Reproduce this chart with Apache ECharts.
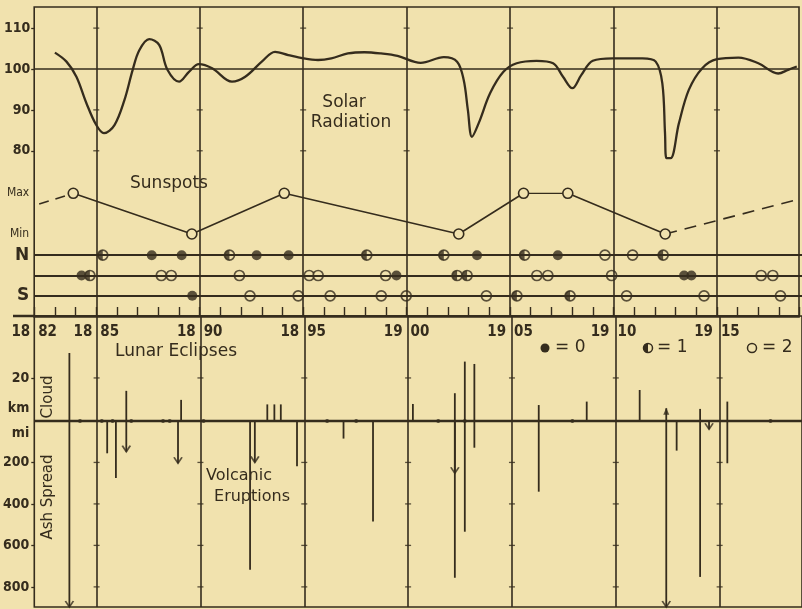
<!DOCTYPE html>
<html><head><meta charset="utf-8">
<script src="https://cdn.jsdelivr.net/npm/echarts@6/dist/echarts.min.js"></script>
<style>html,body{margin:0;padding:0;background:#f1e2ae;}#c{width:802px;height:609px;}</style>
</head><body><div id="c"></div>
<script>
// ---------- data ----------
const yearLabels = [1882, 1885, 1890, 1895, 1900, 1905, 1910, 1915];
const gridYears = [1885, 1890, 1895, 1900, 1905, 1910, 1915];

const solarYears = [1883.00,1883.56,1884.04,1884.52,1885.00,1885.37,1885.88,1886.36,1886.76,1887.08,1887.56,1888.04,1888.44,1889.00,1889.48,1889.96,1890.60,1891.56,1892.20,1893.00,1893.64,1894.28,1895.00,1895.72,1896.36,1897.16,1897.96,1898.76,1899.56,1900.68,1901.80,1902.44,1902.76,1902.96,1903.16,1903.48,1904.04,1904.68,1905.32,1906.28,1907.08,1907.56,1908.01,1908.44,1909.00,1909.96,1911.40,1912.04,1912.36,1912.49,1912.56,1912.76,1913.16,1913.64,1914.29,1915.00,1916.04,1917.00,1917.96,1918.44,1918.86];
const solarValues = [104.0,101.8,98.1,91.7,86.3,84.3,86.3,92.4,99.8,104.6,107.3,105.9,99.8,96.9,99.3,101.2,100.2,96.9,98.1,101.8,104.2,103.4,102.6,102.2,102.6,103.8,104.1,103.8,103.2,101.5,102.9,101.8,97.3,90.0,83.4,86.7,94.1,99.3,101.4,102.0,101.4,98.1,95.3,98.5,102.0,102.6,102.6,101.8,96.5,84.3,78.2,78.2,86.7,94.9,100.2,102.4,102.8,101.4,98.9,99.8,100.6];
const solarTicks = [80, 90, 100, 110];

const sunYears = [1883.88, 1889.59, 1894.04, 1902.44, 1905.56, 1907.69, 1912.38];
const sunLevels = [1, 0, 1, 0, 1, 1, 0];
const sunLeftYears = [1881.46, 1883.88];
const sunLeftLevels = [0.61, 1];
const sunRightYears = [1912.38, 1918.86];
const sunRightLevels = [0, 0.86];

const eclipseRows = ['S', 'C', 'N'];
const eclipseNYears = [1885.30,1887.66,1889.10,1891.40,1892.71,1894.25,1898.01,1901.72,1903.32,1905.61,1907.21,1909.48,1910.81,1912.28];
const eclipseNKinds = [1,0,0,1,0,0,1,1,0,1,0,2,2,1];
const eclipseCYears = [1884.28,1884.68,1888.12,1888.60,1891.88,1895.24,1895.67,1898.92,1899.44,1902.36,1902.84,1906.20,1906.73,1909.80,1913.29,1913.64,1917.00,1917.56];
const eclipseCKinds = [0,1,2,2,2,2,2,2,0,1,1,2,2,2,0,0,2,2];
const eclipseSYears = [1889.61,1892.39,1894.71,1896.25,1898.71,1899.91,1903.77,1905.24,1907.80,1910.52,1914.25,1917.93];
const eclipseSKinds = [0,2,2,2,2,2,2,1,1,2,2,2];

const eruptYears = [1883.69,1885.51,1885.93,1886.43,1888.92,1889.07,1892.39,1892.62,1893.22,1893.56,1893.87,1894.65,1896.89,1898.31,1900.23,1902.25,1902.25,1902.73,1903.19,1906.29,1908.60,1911.15,1912.43,1912.93,1914.06,1914.49,1915.37];
const cloudKm = [31.6,null,null,14.0,null,9.8,null,null,7.7,7.7,7.7,null,null,null,7.9,12.9,null,27.6,26.5,7.4,9.0,14.4,5.9,null,5.6,null,9.0];
const ashMi = [897,156,275,148,204,null,718,200,null,null,null,219,85,485,null,252,756,534,129,341,null,null,897,143,752,40,204];
const ashArrow = [1,0,0,1,1,0,0,1,0,0,0,0,0,0,0,1,0,0,0,0,0,0,1,0,0,1,0];
const cloudArrow = [0,0,0,0,0,0,0,0,0,0,0,0,0,0,0,0,0,0,0,0,0,0,1,0,0,0,0];
const minorEruptYears = [1884.20,1885.25,1885.77,1886.67,1888.20,1888.52,1890.15,1896.10,1897.50,1901.45,1902.73,1907.91,1917.45];
const cloudTicks = [20];
const ashTicks = [200, 400, 600, 800];

// ---------- style ----------
const ink = '#352c1d', bg = '#f1e2ae';
const FONT = "'DejaVu Sans', sans-serif";
const NARROW = "'Liberation Sans Narrow','DejaVu Sans Condensed','DejaVu Sans',sans-serif";
const L = 34.2, W = 770;
const X_MIN = 1882, X_MAX = 1882 + W / 20.83;

function xa(gi, extra) {
  return Object.assign({type: 'value', gridIndex: gi, min: X_MIN, max: X_MAX,
    axisLine: {show: false}, axisTick: {show: false}, axisLabel: {show: false}, splitLine: {show: false}}, extra || {});
}
const lineMark = (data, w) => ({silent: true, symbol: 'none', label: {show: false}, animation: false,
  lineStyle: {color: ink, width: w, type: 'solid'}, emphasis: {disabled: true}, data: data});

function eclipseData(years, kinds, row, keep) {
  const out = [];
  years.forEach((y, i) => { if (keep.includes(kinds[i])) out.push([y, row]); });
  return out;
}
const allRows = [['N', eclipseNYears, eclipseNKinds], ['C', eclipseCYears, eclipseCKinds], ['S', eclipseSYears, eclipseSKinds]];
const openData = allRows.flatMap(r => eclipseData(r[1], r[2], r[0], [1, 2]));
const filledData = allRows.flatMap(r => eclipseData(r[1], r[2], r[0], [0]));
const halfData = allRows.flatMap(r => eclipseData(r[1], r[2], r[0], [1]));

const cloudData = [], ashData = [], ashArrowData = [], cloudArrowData = [];
eruptYears.forEach((y, i) => {
  if (cloudKm[i] != null) cloudData.push([y, cloudKm[i]]);
  if (ashMi[i] != null) ashData.push([y, -ashMi[i]]);
  if (ashArrow[i]) ashArrowData.push([y, -ashMi[i]]);
  if (cloudArrow[i]) cloudArrowData.push([y, cloudKm[i]]);
});

const lbl = {fontSize: 14, fontFamily: NARROW, color: ink, fontWeight: 'bold'};

const chart = echarts.init(document.getElementById('c'), null, {renderer: 'canvas'});
const option = {
  backgroundColor: bg,
  animation: false,
  textStyle: {fontFamily: FONT, color: ink},
  grid: [
    {left: L, top: 7, width: W, height: 309, show: true, borderColor: ink, borderWidth: 1.6, backgroundColor: 'transparent'},
    {left: L, top: 193.3, width: W, height: 40.7},
    {left: L, top: 245, width: W, height: 61},
    {left: L, top: 316, width: W, height: 291, show: true, borderColor: ink, borderWidth: 1.6, backgroundColor: 'transparent'}
  ],
  xAxis: [
    xa(0, {interval: 1,
      axisLine: {show: true, lineStyle: {color: ink, width: 2.5}},
      axisTick: {show: true, inside: true, length: 9, lineStyle: {color: ink, width: 1.4}},
      axisLabel: {show: true, margin: 9, color: ink,
        formatter: v => {
          const r = Math.round(v);
          if (Math.abs(v - r) > 1e-6 || !yearLabels.includes(r)) return '';
          const s = String(r);
          return '{a|' + s.slice(0, 2) + '}{g|}{b|' + s.slice(2) + '}';
        },
        rich: {a: Object.assign({}, lbl, {fontSize: 15}), g: {width: 8}, b: Object.assign({}, lbl, {fontSize: 15})}
      }}),
    xa(1), xa(2), xa(3)
  ],
  yAxis: [
    {type: 'value', gridIndex: 0, min: 39.6, max: 115.16, splitLine: {show: false}, axisLine: {show: false},
      axisTick: {show: true, length: 3, customValues: solarTicks, lineStyle: {color: ink, width: 1.3}},
      axisLabel: Object.assign({customValues: solarTicks, margin: 4}, lbl)},
    {type: 'value', gridIndex: 1, min: 0, max: 1, splitLine: {show: false}, axisLine: {show: false}, axisTick: {show: false},
      axisLabel: Object.assign({customValues: [0, 1], margin: 5}, lbl, {fontSize: 12, fontWeight: 'normal'}, {formatter: v => v === 1 ? 'Max' : 'Min'})},
    {type: 'category', gridIndex: 2, data: eclipseRows, axisLine: {show: false}, axisTick: {show: false}, splitLine: {show: false},
      axisLabel: {margin: 5, fontSize: 17, fontWeight: 'bold', fontFamily: FONT, color: ink}},
    {type: 'value', gridIndex: 3, min: -897, max: 506, position: 'left', offset: 0, splitLine: {show: false}, axisLine: {show: false},
      axisTick: {show: true, length: 3, customValues: ashTicks.map(v => -v), lineStyle: {color: ink, width: 1.3}},
      axisLabel: Object.assign({customValues: ashTicks.map(v => -v).concat([-60]), margin: 5}, lbl,
        {formatter: v => v === -60 ? 'mi' : String(-v)})},
    {type: 'value', gridIndex: 3, min: -86.5, max: 48.8, position: 'left', offset: 0, splitLine: {show: false}, axisLine: {show: false},
      axisTick: {show: true, length: 3, customValues: cloudTicks, lineStyle: {color: ink, width: 1.3}},
      axisLabel: Object.assign({customValues: cloudTicks.concat([6]), margin: 5}, lbl,
        {formatter: v => v === 6 ? 'km' : String(v)})}
  ],
  series: [
    {name: 'Solar Radiation', type: 'line', xAxisIndex: 0, yAxisIndex: 0, smooth: 0.35, symbol: 'none',
      data: solarYears.map((y, i) => [y, solarValues[i]]), lineStyle: {color: ink, width: 2.3},
      markLine: lineMark([{yAxis: 100}].concat(gridYears.map(y => ({xAxis: y}))), 1.6)},
    {type: 'scatter', xAxisIndex: 0, yAxisIndex: 0, symbol: 'rect', symbolSize: [6, 1.3], silent: true,
      itemStyle: {color: ink}, data: gridYears.flatMap(y => solarTicks.filter(v => v !== 100).map(v => [y, v]))},
    {name: 'Sunspots', type: 'line', xAxisIndex: 1, yAxisIndex: 1, z: 5, symbol: 'circle', symbolSize: 10, showAllSymbol: true,
      data: sunYears.map((y, i) => [y, sunLevels[i]]), lineStyle: {color: ink, width: 1.6},
      itemStyle: {color: bg, borderColor: ink, borderWidth: 1.6}},
    {type: 'line', xAxisIndex: 1, yAxisIndex: 1, clip: false, symbol: 'none', z: 4,
      data: sunLeftYears.map((y, i) => [y, sunLeftLevels[i]]), lineStyle: {color: ink, width: 1.6, type: [10, 7]}},
    {type: 'line', xAxisIndex: 1, yAxisIndex: 1, clip: false, symbol: 'none', z: 4,
      data: sunRightYears.map((y, i) => [y, sunRightLevels[i]]), lineStyle: {color: ink, width: 1.6, type: [12, 8]}},
    {name: 'eclipse 0', type: 'scatter', xAxisIndex: 2, yAxisIndex: 2, z: 2, symbol: 'circle', symbolSize: 10,
      itemStyle: {color: ink}, data: filledData,
      markLine: lineMark(eclipseRows.map(r => ({yAxis: r})), 1.9)},
    {name: 'eclipse 2', type: 'scatter', xAxisIndex: 2, yAxisIndex: 2, z: 3, symbol: 'circle', symbolSize: 10,
      itemStyle: {color: bg, borderColor: ink, borderWidth: 1.7}, data: openData},
    {name: 'eclipse 1', type: 'scatter', xAxisIndex: 2, yAxisIndex: 2, z: 4, symbol: 'path://M50,0 A50,50 0 0 0 50,100 Z',
      symbolSize: [5, 10], symbolOffset: [-2.5, 0], itemStyle: {color: ink}, data: halfData},
    {name: 'Cloud', type: 'bar', xAxisIndex: 3, yAxisIndex: 4, barWidth: 1.8, barGap: '-100%', itemStyle: {color: ink},
      data: cloudData,
      markLine: lineMark([{yAxis: 0}].concat(gridYears.map(y => ({xAxis: y}))), 1.6)},
    {name: 'Ash Spread', type: 'bar', xAxisIndex: 3, yAxisIndex: 3, barWidth: 1.8, barGap: '-100%', itemStyle: {color: ink},
      data: ashData,
      markLine: lineMark([{yAxis: 0}], 2.3)},
    {type: 'scatter', xAxisIndex: 3, yAxisIndex: 3, z: 5, symbol: 'path://M0,0 L5,6 L10,0', symbolSize: [8, 6], symbolOffset: [0, -3],
      itemStyle: {color: 'rgba(0,0,0,0)', borderColor: ink, borderWidth: 1.6}, data: ashArrowData},
    {type: 'scatter', xAxisIndex: 3, yAxisIndex: 4, z: 5, symbol: 'triangle', symbolSize: [6, 7], symbolOffset: [0, 3],
      itemStyle: {color: ink}, data: cloudArrowData},
    {type: 'scatter', xAxisIndex: 3, yAxisIndex: 3, z: 5, symbol: 'circle', symbolSize: 4, itemStyle: {color: ink},
      data: minorEruptYears.map(y => [y, 0])},
    {type: 'scatter', xAxisIndex: 3, yAxisIndex: 3, symbol: 'rect', symbolSize: [6, 1.3], silent: true, itemStyle: {color: ink},
      data: gridYears.flatMap(y => ashTicks.map(v => [y, -v]))},
    {type: 'scatter', xAxisIndex: 3, yAxisIndex: 4, symbol: 'rect', symbolSize: [6, 1.3], silent: true, itemStyle: {color: ink},
      data: gridYears.flatMap(y => cloudTicks.map(v => [y, v]))}
  ],
  graphic: [
    {type: 'line', silent: true, shape: {x1: 13, y1: 316, x2: 35, y2: 316}, style: {stroke: ink, lineWidth: 2.5}},
    {type: 'text', x: 344, y: 103, style: {text: 'Solar', font: '17px ' + FONT, fill: ink, align: 'center', verticalAlign: 'middle'}},
    {type: 'text', x: 351, y: 123, style: {text: 'Radiation', font: '17px ' + FONT, fill: ink, align: 'center', verticalAlign: 'middle'}},
    {type: 'text', x: 169, y: 184, style: {text: 'Sunspots', font: '17px ' + FONT, fill: ink, align: 'center', verticalAlign: 'middle'}},
    {type: 'text', x: 176, y: 352, style: {text: 'Lunar Eclipses', font: '17px ' + FONT, fill: ink, align: 'center', verticalAlign: 'middle'}},
    {type: 'text', x: 239, y: 476, style: {text: 'Volcanic', font: '16px ' + FONT, fill: ink, align: 'center', verticalAlign: 'middle'}},
    {type: 'text', x: 252, y: 497, style: {text: 'Eruptions', font: '16px ' + FONT, fill: ink, align: 'center', verticalAlign: 'middle'}},
    {type: 'text', x: 48.5, y: 397, rotation: Math.PI / 2, style: {text: 'Cloud', font: '15px ' + FONT, fill: ink, align: 'center', verticalAlign: 'middle'}},
    {type: 'text', x: 48.5, y: 497, rotation: Math.PI / 2, style: {text: 'Ash Spread', font: '15px ' + FONT, fill: ink, align: 'center', verticalAlign: 'middle'}},
    {type: 'circle', shape: {cx: 545, cy: 348, r: 4.5}, style: {fill: ink}},
    {type: 'text', x: 555, y: 348, style: {text: '= 0', font: '17px ' + FONT, fill: ink, align: 'left', verticalAlign: 'middle'}},
    {type: 'circle', shape: {cx: 648, cy: 348, r: 4.5}, style: {fill: bg, stroke: ink, lineWidth: 1.5}},
    {type: 'sector', shape: {cx: 648, cy: 348, r: 4.5, r0: 0, startAngle: Math.PI / 2, endAngle: Math.PI * 1.5}, style: {fill: ink}},
    {type: 'text', x: 657, y: 348, style: {text: '= 1', font: '17px ' + FONT, fill: ink, align: 'left', verticalAlign: 'middle'}},
    {type: 'circle', shape: {cx: 752, cy: 348, r: 4.5}, style: {fill: bg, stroke: ink, lineWidth: 1.5}},
    {type: 'text', x: 762, y: 348, style: {text: '= 2', font: '17px ' + FONT, fill: ink, align: 'left', verticalAlign: 'middle'}}
  ]
};
chart.setOption(option);
</script>
</body></html>
